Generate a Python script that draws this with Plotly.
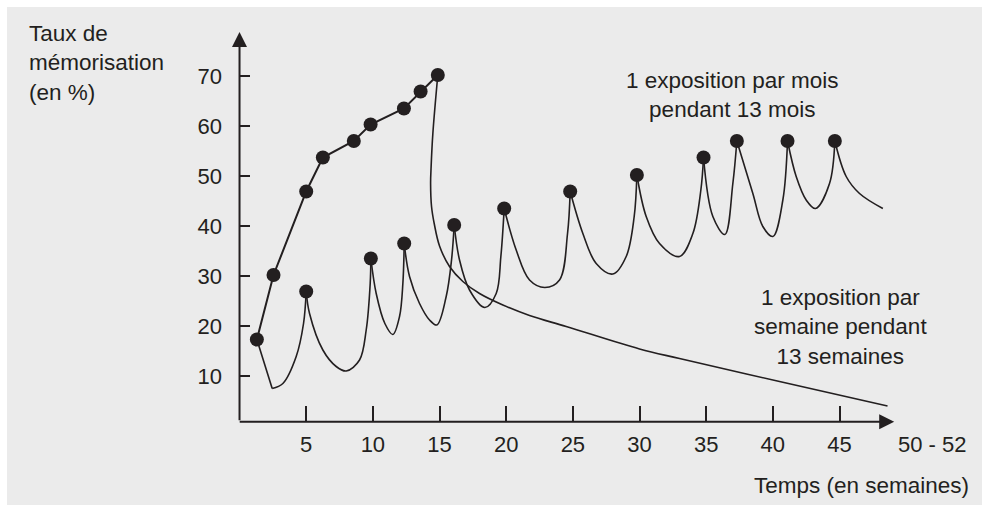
import plotly.graph_objects as go

# ---------------- Données ----------------
semaines_ticks = [5, 10, 15, 20, 25, 30, 35, 40, 45]
taux_ticks = [10, 20, 30, 40, 50, 60, 70]

# 1 exposition par semaine pendant 13 semaines (points d'exposition)
hebdo_x = [1.3, 2.55, 5.0, 6.25, 8.57, 9.83, 12.33, 13.58, 14.87]
hebdo_y = [17.3, 30.2, 46.9, 53.7, 57.0, 60.3, 63.5, 66.9, 70.2]

# oubli après la dernière exposition hebdomadaire
oubli_x = [14.87, 14.5, 14.37, 14.33, 14.4, 14.6, 15.0, 15.75, 16.75, 18.0,
           19.75, 21.75, 24.5, 30.0, 33.0, 40.5, 48.6]
oubli_y = [70.2, 58.5, 51.9, 48.5, 43.9, 40.5, 36.0, 31.9, 28.9, 26.5,
           24.2, 22.1, 19.9, 15.4, 13.5, 8.9, 4.0]

# 1 exposition par mois pendant 13 mois (points d'exposition)
mensuel_x = [5.0, 9.85, 12.35, 16.1, 19.85, 24.8, 29.8, 34.8, 37.3, 41.1, 44.65]
mensuel_y = [26.9, 33.5, 36.5, 40.2, 43.5, 46.9, 50.2, 53.7, 57.0, 57.0, 57.0]

# début de la courbe mensuelle (chute depuis la 1re exposition)
debut_x = [1.3, 2.45]
debut_y = [17.3, 7.5]

# courbe mensuelle entre expositions (segments séparés par None)
courbe_x = [2.45, 3.25, 4.25, 4.8, 5.0, None,
            5.0, 5.25, 6.25, 7.25, 8.0, 9.0, 9.5, 9.8, 9.85, None,
            9.85, 10.25, 10.9, 11.5, 12.0, 12.25, 12.35, None,
            12.35, 12.75, 13.5, 14.25, 14.8, 15.5, 15.9, 16.1, None,
            16.1, 16.5, 17.25, 18.4, 19.25, 19.6, 19.85, None,
            19.85, 20.75, 21.75, 22.9, 24.0, 24.6, 24.8, None,
            24.8, 25.75, 26.75, 28.0, 29.0, 29.6, 29.8, None,
            29.8, 30.5, 31.5, 33.0, 34.0, 34.6, 34.8, None,
            34.8, 35.5, 36.4, 37.0, 37.3, None,
            37.3, 38.5, 39.25, 40.0, 40.75, 41.1, None,
            41.1, 41.75, 42.5, 43.2, 44.25, 44.65, None,
            44.65, 45.5, 46.5, 48.25]
courbe_y = [7.5, 8.5, 13.9, 20.5, 26.9, None,
            26.9, 22.5, 15.2, 11.9, 11.0, 13.2, 19.2, 28.5, 33.5, None,
            33.5, 26.5, 20.5, 18.3, 21.9, 28.5, 36.5, None,
            36.5, 29.9, 24.5, 21.2, 20.2, 25.9, 33.2, 40.2, None,
            40.2, 33.2, 27.2, 23.7, 26.5, 33.9, 43.5, None,
            43.5, 35.2, 29.2, 27.7, 29.2, 38.5, 46.9, None,
            46.9, 38.5, 32.5, 30.4, 33.9, 41.9, 50.2, None,
            50.2, 41.9, 36.5, 33.9, 38.5, 47.2, 53.7, None,
            53.7, 41.9, 38.3, 48.5, 57.0, None,
            57.0, 46.5, 39.9, 37.9, 45.2, 57.0, None,
            57.0, 49.9, 45.2, 43.5, 48.5, 57.0, None,
            57.0, 49.9, 46.5, 43.5]

# ---------------- Style ----------------
INK = "#231f20"
BG = "#ebebeb"
FONT = "Liberation Sans, Arial, Helvetica, sans-serif"

W, H = 982, 505
ML, MR, MT, MB = 239, 7, 20, 83
PW, PH = W - ML - MR, H - MT - MB


def px_x(p):
    return (p - ML) / PW


def px_y(p):
    return (H - MB - p) / PH


fig = go.Figure()

# courbe mensuelle
fig.add_trace(go.Scatter(x=debut_x, y=debut_y, mode="lines",
                         line=dict(color=INK, width=1.6), hoverinfo="skip"))
fig.add_trace(go.Scatter(x=courbe_x, y=courbe_y, mode="lines", connectgaps=False,
                         line=dict(color=INK, width=1.6, shape="spline", smoothing=1.0),
                         hoverinfo="skip"))
# oubli hebdomadaire
fig.add_trace(go.Scatter(x=oubli_x, y=oubli_y, mode="lines",
                         line=dict(color=INK, width=1.6, shape="spline", smoothing=1.0),
                         hoverinfo="skip"))
# exposition hebdomadaire
fig.add_trace(go.Scatter(x=hebdo_x, y=hebdo_y, mode="lines+markers",
                         line=dict(color=INK, width=2),
                         marker=dict(color=INK, size=14), cliponaxis=False))
# expositions mensuelles
fig.add_trace(go.Scatter(x=mensuel_x, y=mensuel_y, mode="markers",
                         marker=dict(color=INK, size=14), cliponaxis=False))

x0 = -0.04
y0 = 0.8
fig.update_xaxes(range=[x0, x0 + PW / 13.333], tickvals=semaines_ticks,
                 ticktext=[str(v) for v in semaines_ticks],
                 ticks="inside", ticklen=16, tickwidth=2, tickcolor=INK,
                 showline=False, showgrid=False, zeroline=False,
                 tickfont=dict(family=FONT, size=22, color=INK),
                 ticklabelstandoff=7)
fig.update_yaxes(range=[y0, y0 + PH / 5.0], tickvals=taux_ticks,
                 ticktext=[str(v) for v in taux_ticks],
                 ticks="inside", ticklen=11, tickwidth=2, tickcolor=INK,
                 showline=False, showgrid=False, zeroline=False,
                 tickfont=dict(family=FONT, size=22, color=INK),
                 ticklabelstandoff=16)

ann = []
# axes avec flèches
ann.append(dict(x=0, y=78.8, ax=0, ay=0.86, xref="x", yref="y", axref="x", ayref="y",
                text="", showarrow=True, arrowhead=2, arrowsize=1.5, arrowwidth=2,
                arrowcolor=INK, standoff=0, startstandoff=0))
ann.append(dict(x=49.1, y=0.86, ax=-0.1, ay=0.86, xref="x", yref="y", axref="x", ayref="y",
                text="", showarrow=True, arrowhead=2, arrowsize=1.5, arrowwidth=2,
                arrowcolor=INK, standoff=0, startstandoff=0))

tf = dict(family=FONT, size=22.5, color=INK)
ann.append(dict(x=px_x(27), y=px_y(63), xref="paper", yref="paper", xanchor="left",
                yanchor="middle", align="left", showarrow=False,
                text="Taux de<br>mémorisation<br>(en %)", font=tf))
ann.append(dict(x=px_x(732.5), y=px_y(95), xref="paper", yref="paper", xanchor="center",
                yanchor="middle", align="center", showarrow=False,
                text="1 exposition par mois<br>pendant 13 mois", font=tf))
ann.append(dict(x=px_x(840), y=px_y(327), xref="paper", yref="paper", xanchor="center",
                yanchor="middle", align="center", showarrow=False,
                text="1 exposition par<br>semaine pendant<br>13 semaines", font=tf))
ann.append(dict(x=px_x(932.5), y=px_y(445), xref="paper", yref="paper", xanchor="center",
                yanchor="middle", showarrow=False, text="50 - 52",
                font=dict(family=FONT, size=22, color=INK)))
ann.append(dict(x=px_x(971), y=px_y(485), xref="paper", yref="paper", xanchor="right",
                yanchor="middle", showarrow=False, text="Temps (en semaines)", font=tf))

fig.update_layout(
    width=W, height=H, autosize=False,
    margin=dict(l=ML, r=MR, t=MT, b=MB, pad=0),
    paper_bgcolor=BG, plot_bgcolor="rgba(0,0,0,0)",
    showlegend=False, annotations=ann,
    shapes=[
        dict(type="rect", xref="paper", yref="paper",
             x0=px_x(-5), x1=px_x(W + 5), y0=px_y(7), y1=px_y(-5),
             fillcolor="white", line=dict(width=0), layer="below"),
        dict(type="rect", xref="paper", yref="paper",
             x0=px_x(-5), x1=px_x(7), y0=px_y(H + 5), y1=px_y(-5),
             fillcolor="white", line=dict(width=0), layer="below"),
    ],
)

fig.write_html("out.html", config={"displayModeBar": False},
               post_script="document.body.style.margin='0';"
                           "document.body.style.overflow='hidden';"
                           "document.body.style.background='" + BG + "';")
